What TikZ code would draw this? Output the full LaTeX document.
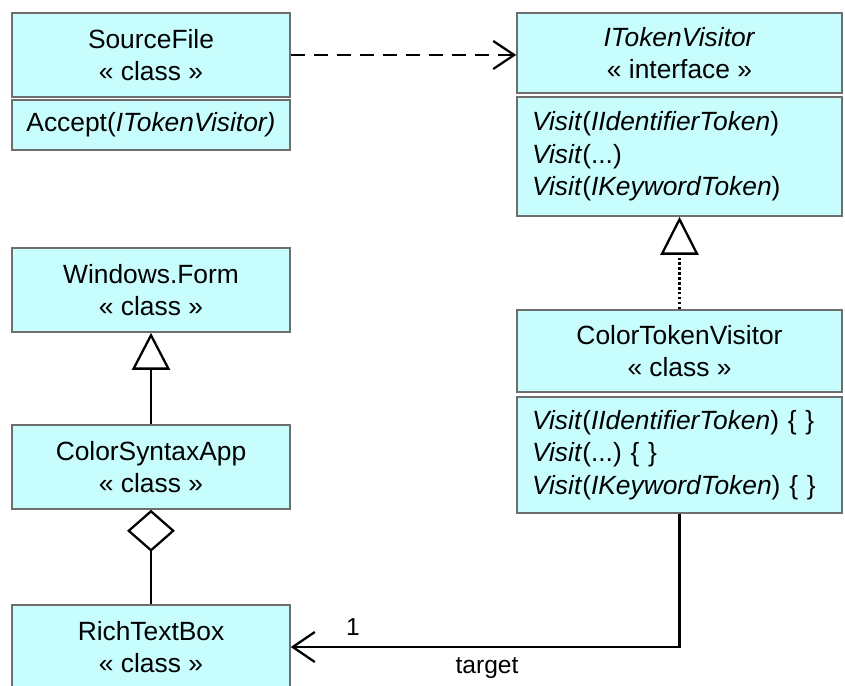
\documentclass[tikz,border=0pt]{standalone}
\usepackage{fontspec}
\setmainfont{Liberation Sans}
\usetikzlibrary{arrows.meta}
\definecolor{umlfill}{HTML}{C8FDFD}
\definecolor{umlline}{HTML}{6E6E6E}

\begin{document}
\begin{tikzpicture}[x=0.02cm,y=-0.02cm,font=\fontsize{15}{18.5}\selectfont,
  box/.style={draw=umlline,fill=umlfill,line width=0.9pt,inner sep=0pt,align=center,minimum height=1.68cm},
  narrow/.style={box,minimum width=5.56cm},
  wide/.style={box,minimum width=6.5cm},
  opsbox/.style={draw=umlline,fill=umlfill,line width=0.9pt,inner xsep=0.3cm,inner ysep=0pt,align=left,text width=5.9cm},
  link/.style={line width=1.3pt}]
\useasboundingbox (0,0) rectangle (845,686);
% classes on the left
\node[narrow] (src) at (151,55) {SourceFile\\« class »};
\node[narrow,minimum height=1cm] (srcops) at (151,125) {Accept(\textit{ITokenVisitor)}};
\node[narrow] (wform) at (151,290) {Windows.Form\\« class »};
\node[narrow] (csapp) at (151,467) {ColorSyntaxApp\\« class »};
\node[narrow] (rtbox) at (151,647) {RichTextBox\\« class »};
% visitor side
\node[wide,minimum height=1.6cm] (itv) at (679.5,53) {\textit{ITokenVisitor}\\« interface »};
\node[opsbox,minimum height=2.38cm] (itvops) at (679.5,156.5)
  {\textit{Visit}(\textit{IIdentifierToken})\\\textit{Visit}(...)\\\textit{Visit}(\textit{IKeywordToken})};
\node[wide,minimum height=1.64cm] (ctv) at (679.5,351) {ColorTokenVisitor\\« class »};
\node[opsbox,minimum height=2.32cm] (ctvops) at (679.5,455)
  {\textit{Visit}(\textit{IIdentifierToken}) \{ \}\\\textit{Visit}(...)\ \{ \}\\\textit{Visit}(\textit{IKeywordToken}) \{ \}};
% relations
\draw[link,dashed,dash pattern=on 0.28cm off 0.18cm,-{Straight Barb[length=0.42cm,width=0.56cm]}]
  (src.east) -- (src.east -| itv.west);
\draw[link,dash pattern=on 1.4pt off 1.4pt,-{Triangle[open,length=0.76cm,width=0.76cm]}]
  (ctv.north) -- (itvops.south);
\draw[link,-{Triangle[open,length=0.74cm,width=0.76cm]}] (csapp.north) -- (wform.south);
\draw[link,{Diamond[open,length=0.84cm,width=0.96cm]}-] (csapp.south) -- (rtbox.north);
\draw[link,-{Straight Barb[length=0.44cm,width=0.6cm]}] (ctvops.south) |- (rtbox.east);
\node[font=\fontsize{14}{16}\selectfont] (mult) at (353,627) {1};
\node[font=\fontsize{14}{16}\selectfont] (role) at (487,668) {target};
\end{tikzpicture}
\end{document}
